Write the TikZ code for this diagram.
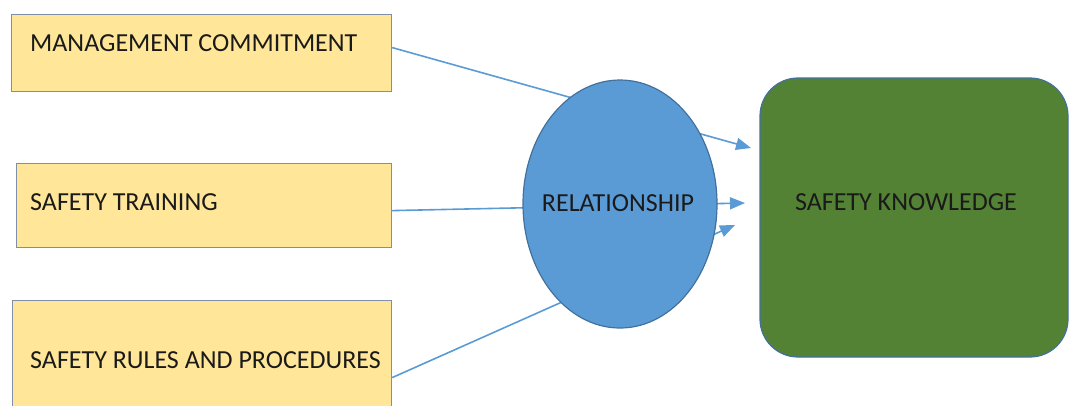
\documentclass[tikz,border=0pt]{standalone}
\usepackage{fontspec}
\setmainfont{Carlito}
\usetikzlibrary{arrows.meta,shapes.geometric}
\definecolor{boxfill}{HTML}{FFE699}
\definecolor{boxline}{HTML}{7F8FA9}
\definecolor{ellfill}{HTML}{5B9BD5}
\definecolor{ellline}{HTML}{41719C}
\definecolor{grnfill}{HTML}{548235}
\definecolor{conn}{HTML}{5B9BD5}
\definecolor{ink}{HTML}{1A1A1A}
\begin{document}
\begin{tikzpicture}[x=1pt,y=-1pt,
  factor/.style={draw=boxline,line width=1.2pt,fill=boxfill,rectangle,inner sep=0pt,anchor=north west},
  lbl/.style={font=\fontsize{26}{31}\selectfont,text=ink,anchor=west,inner sep=0pt},
  link/.style={draw=conn,line width=1.6pt},
  arr/.style={link,-{Triangle[length=15pt,width=12pt]}}]
\useasboundingbox (0,0) rectangle (1070,405);
% boxes
\node[factor,minimum width=380pt,minimum height=77pt] (b1) at (11,14) {};
\node[factor,minimum width=375pt,minimum height=84pt] (b2) at (16,163) {};
\node[factor,minimum width=379pt,minimum height=110pt] (b3) at (12,300) {};
\node[lbl] (t1) at (30,43) {MANAGEMENT COMMITMENT};
\node[lbl] (t2) at (30,202) {SAFETY TRAINING};
\node[lbl] (t3) at (30,360) {SAFETY RULES AND PROCEDURES};
% target
\node[draw=ellline,line width=1.2pt,fill=grnfill,rounded corners=38pt,minimum width=308pt,minimum height=279pt,inner sep=0pt] (sk) at (914,217.5) {};
\node[lbl,anchor=center] (sklbl) at (906,202) {SAFETY KNOWLEDGE};
% connectors (behind ellipse)
\coordinate (tip1) at (751,148);
\coordinate (tip2) at (745,203);
\coordinate (tip3) at (735,225);
\draw[arr] ([yshift=5.5pt]b1.east) -- (tip1);
\draw[arr] ([yshift=-5pt]b2.east) -- (tip2);
\draw[arr] ([yshift=-22pt]b3.east) -- (tip3);
% mediator
\node[ellipse,draw=ellline,line width=1.2pt,fill=ellfill,minimum width=194pt,minimum height=248pt,inner sep=0pt] (rel) at (620,204) {};
\node[lbl,anchor=center] (rellbl) at (618,203) {RELATIONSHIP};
\end{tikzpicture}
\end{document}
